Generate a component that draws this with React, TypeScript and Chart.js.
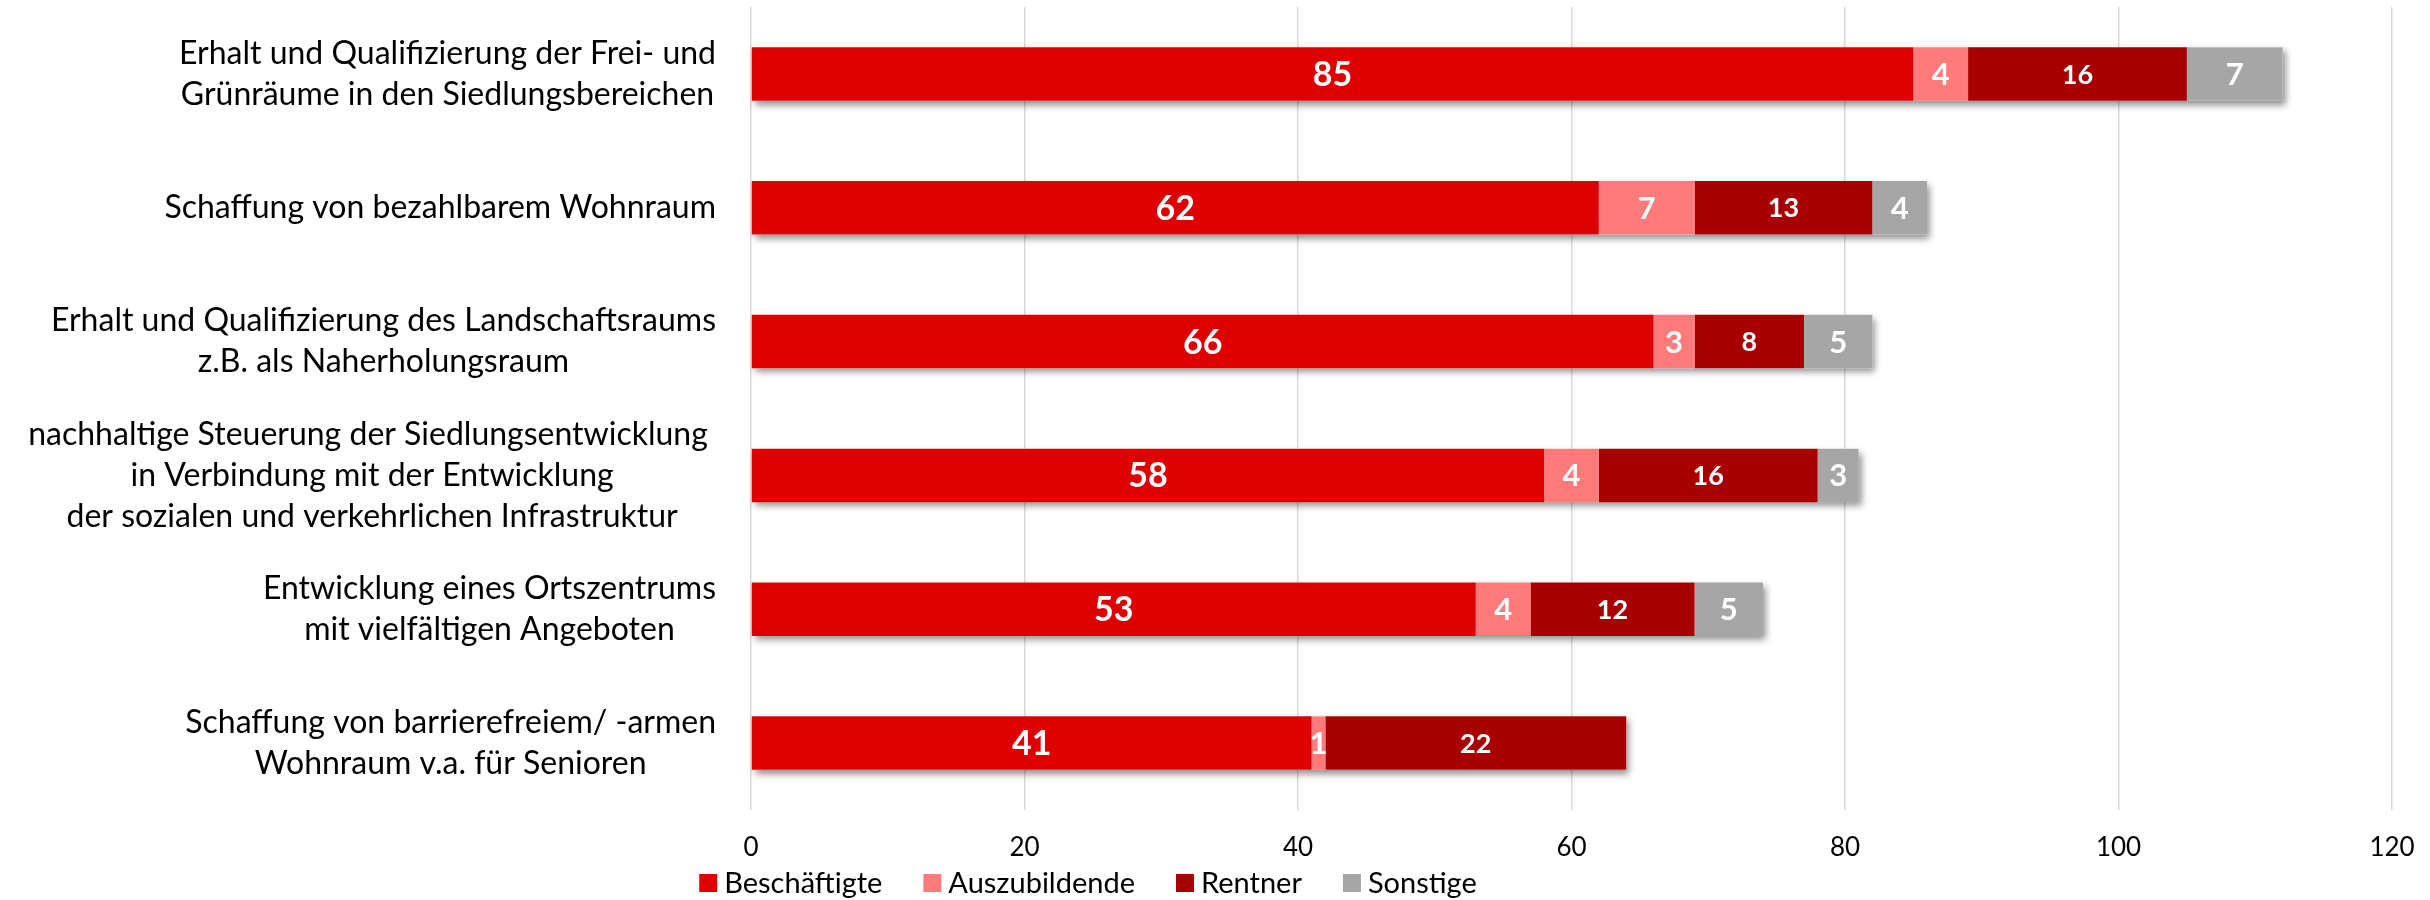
import React, { useEffect, useRef } from "react";
import { Chart, registerables } from "chart.js";

Chart.register(...registerables);

const categories: string[][] = [
  ["Erhalt und Qualifizierung der Frei- und", "Grünräume in den Siedlungsbereichen"],
  ["Schaffung von bezahlbarem Wohnraum"],
  ["Erhalt und Qualifizierung des Landschaftsraums", "z.B. als Naherholungsraum"],
  [
    "nachhaltige Steuerung der Siedlungsentwicklung ",
    "in Verbindung mit der Entwicklung",
    "der sozialen und verkehrlichen Infrastruktur",
  ],
  ["Entwicklung eines Ortszentrums", "mit vielfältigen Angeboten"],
  ["Schaffung von barrierefreiem/ -armen", "Wohnraum v.a. für Senioren"],
];

const seriesNames = ["Beschäftigte", "Auszubildende", "Rentner", "Sonstige"];
const beschaeftigte = [85, 62, 66, 58, 53, 41];
const auszubildende = [4, 7, 3, 4, 4, 1];
const rentner = [16, 13, 8, 16, 12, 22];
const sonstige: (number | null)[] = [7, 4, 5, 3, 5, null];
const xMin = 0;
const xMax = 120;
const xStep = 20;

const seriesColors = ["#DE0000", "#FF7B7B", "#A80000", "#A6A6A6"];
const labelFontSizes = [34, 31, 27, 31];
const FONT = "Lato, 'Open Sans', sans-serif";

const shadowPlugin = {
  id: "stackShadow",
  beforeDatasetsDraw(chart: any) {
    const ctx = chart.ctx;
    const n = chart.data.labels.length;
    for (let i = 0; i < n; i++) {
      let left = Infinity;
      let right = -Infinity;
      let top = 0;
      let height = 0;
      chart.data.datasets.forEach((_: any, d: number) => {
        const meta = chart.getDatasetMeta(d);
        const el: any = meta.data[i];
        const v = chart.data.datasets[d].data[i];
        if (!el || v == null || v === 0) return;
        const a = Math.min(el.x, el.base);
        const b = Math.max(el.x, el.base);
        left = Math.min(left, a);
        right = Math.max(right, b);
        top = el.y - el.height / 2;
        height = el.height;
      });
      if (!isFinite(left)) continue;
      ctx.save();
      ctx.shadowColor = "rgba(0,0,0,0.45)";
      ctx.shadowBlur = 7;
      ctx.shadowOffsetX = 3;
      ctx.shadowOffsetY = 4;
      ctx.fillStyle = "#ffffff";
      ctx.fillRect(left, top, right - left, height);
      ctx.restore();
    }
  },
};

const valueLabelPlugin = {
  id: "valueLabels",
  afterDatasetsDraw(chart: any) {
    const ctx = chart.ctx;
    chart.data.datasets.forEach((ds: any, d: number) => {
      const meta = chart.getDatasetMeta(d);
      meta.data.forEach((el: any, i: number) => {
        const v = ds.data[i];
        if (v == null || v === 0) return;
        const c = el.getCenterPoint();
        ctx.save();
        ctx.fillStyle = "#ffffff";
        ctx.font = `bold ${labelFontSizes[d]}px ${FONT}`;
        ctx.textAlign = "center";
        ctx.textBaseline = "middle";
        ctx.fillText(String(v), c.x, c.y + 1);
        ctx.restore();
      });
    });
  },
};

const categoryLabelPlugin = {
  id: "categoryLabels",
  afterDraw(chart: any) {
    const ctx = chart.ctx;
    const y = chart.scales.y;
    const rightEdge = 716;
    const lineH = 41;
    ctx.save();
    ctx.font = `32px ${FONT}`;
    ctx.fillStyle = "#000000";
    ctx.textAlign = "center";
    ctx.textBaseline = "middle";
    categories.forEach((lines, i) => {
      const cy = y.getPixelForValue(i);
      const w = Math.max(...lines.map((l) => ctx.measureText(l).width));
      const cx = rightEdge - w / 2;
      lines.forEach((l, k) => {
        const ly = cy + (k - (lines.length - 1) / 2) * lineH;
        ctx.fillText(l, cx, ly);
      });
    });
    ctx.restore();
  },
};

const legendPlugin = {
  id: "customLegend",
  afterDraw(chart: any) {
    const ctx = chart.ctx;
    const box = 18;
    const gap = 7;
    const spacing = 41;
    const cy = 883;
    const centerX = 1088;
    ctx.save();
    ctx.font = `29px ${FONT}`;
    ctx.textBaseline = "middle";
    ctx.textAlign = "left";
    const widths = seriesNames.map((s) => ctx.measureText(s).width);
    const total =
      widths.reduce((a, w) => a + box + gap + w, 0) + spacing * (seriesNames.length - 1);
    let x = centerX - total / 2;
    seriesNames.forEach((s, i) => {
      ctx.fillStyle = seriesColors[i];
      ctx.fillRect(x, cy - box / 2, box, box);
      ctx.fillStyle = "#000000";
      ctx.fillText(s, x + box + gap, cy + 1);
      x += box + gap + widths[i] + spacing;
    });
    ctx.restore();
  },
};

export default function App() {
  const canvasRef = useRef<HTMLCanvasElement | null>(null);

  useEffect(() => {
    document.body.style.margin = "0";
    const canvas = canvasRef.current;
    if (!canvas) return;
    const seriesData = [beschaeftigte, auszubildende, rentner, sonstige];
    const chart = new Chart(canvas, {
      type: "bar",
      data: {
        labels: categories.map((c) => c.join(" ")),
        datasets: seriesNames.map((name, i) => ({
          label: name,
          data: seriesData[i] as any,
          backgroundColor: seriesColors[i],
          borderWidth: 0,
          categoryPercentage: 1,
          barPercentage: 0.4,
        })),
      },
      options: {
        indexAxis: "y",
        responsive: false,
        animation: false,
        devicePixelRatio: 1,
        layout: { padding: { left: 0, right: 38, top: 7, bottom: 0 } },
        plugins: {
          legend: { display: false },
          tooltip: { enabled: false },
        },
        scales: {
          x: {
            type: "linear",
            stacked: true,
            min: xMin,
            max: xMax,
            ticks: {
              stepSize: xStep,
              color: "#000000",
              font: { family: FONT, size: 26 },
              padding: 0,
              maxRotation: 0,
            },
            grid: {
              color: "#D9D9D9",
              lineWidth: 1.5,
              drawTicks: true,
              tickLength: 22,
              tickColor: "rgba(0,0,0,0)",
            },
            border: { display: false },
            afterFit(scale: any) {
              scale.height = 90;
            },
          },
          y: {
            type: "category",
            stacked: true,
            ticks: { display: false },
            grid: { display: false },
            border: { display: false },
            afterFit(scale: any) {
              scale.width = 751;
            },
          },
        },
      },
      plugins: [shadowPlugin, valueLabelPlugin, categoryLabelPlugin, legendPlugin],
    } as any);
    return () => chart.destroy();
  }, []);

  return (
    <div style={{ width: 2430, height: 900, background: "#ffffff" }}>
      <canvas ref={canvasRef} width={2430} height={900} style={{ display: "block" }} />
    </div>
  );
}
